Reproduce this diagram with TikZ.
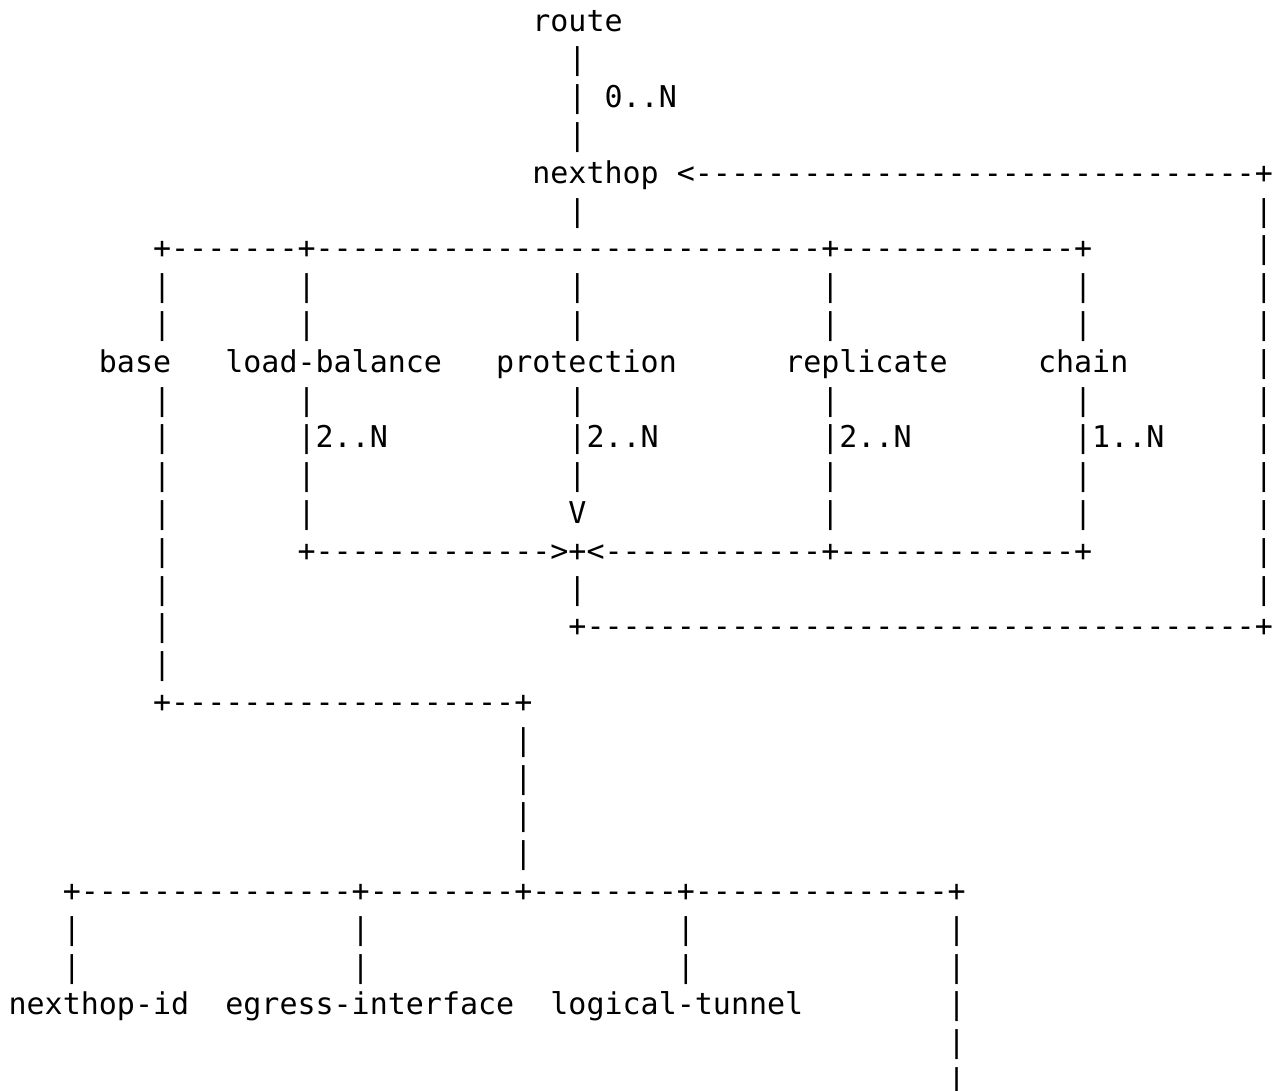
\documentclass[tikz,border=0pt]{standalone}
\usepackage{fontspec}
\newfontfamily\asciimono{DejaVu Sans Mono}
\ExplSyntaxOn
\cs_new:Npn \dsh #1 { \prg_replicate:nn {#1} {-} }
\ExplSyntaxOff
\tikzset{txt/.style={anchor=base west, inner sep=0pt, outer sep=0pt,
  font=\asciimono\fontsize{15pt}{18pt}\selectfont, text=black}}
\newcommand\ch[3]{\node[txt] (r#1c#2) at ({8.6+18.06*#2},{-32-37.8*#1}) {#3};}
\begin{document}
\begin{tikzpicture}[x=0.5pt,y=0.5pt]
\useasboundingbox[fill=white] (0,0) rectangle (1273,-1091);
% row 0-5
\ch{0}{29}{route}
\ch{1}{31}{|}
\ch{2}{31}{|}\ch{2}{33}{0..N}
\ch{3}{31}{|}
\ch{4}{29}{nexthop}\ch{4}{37}{<\dsh{31}+}
\ch{5}{31}{|}\ch{5}{69}{|}
% row 6
\ch{6}{8}{+\dsh{7}+\dsh{28}+\dsh{13}+}\ch{6}{69}{|}
% rows 7, 8, 10, 12
\foreach \r in {7,8,10,12}{
  \foreach \c in {8,16,31,45,59,69}{\ch{\r}{\c}{|}}
}
% row 9
\ch{9}{5}{base}\ch{9}{12}{load-balance}\ch{9}{27}{protection}
\ch{9}{43}{replicate}\ch{9}{57}{chain}\ch{9}{69}{|}
% row 11
\ch{11}{8}{|}\ch{11}{16}{|2..N}\ch{11}{31}{|2..N}\ch{11}{45}{|2..N}
\ch{11}{59}{|1..N}\ch{11}{69}{|}
% row 13
\ch{13}{8}{|}\ch{13}{16}{|}\ch{13}{31}{V}\ch{13}{45}{|}\ch{13}{59}{|}\ch{13}{69}{|}
% row 14
\ch{14}{8}{|}\ch{14}{16}{+\dsh{13}>+<\dsh{12}+\dsh{13}+}\ch{14}{69}{|}
% row 15
\ch{15}{8}{|}\ch{15}{31}{|}\ch{15}{69}{|}
% row 16
\ch{16}{8}{|}\ch{16}{31}{+\dsh{37}+}
% row 17
\ch{17}{8}{|}
% row 18
\ch{18}{8}{+\dsh{19}+}
% rows 19-22
\foreach \r in {19,20,21,22}{\ch{\r}{28}{|}}
% row 23
\ch{23}{3}{+\dsh{15}+\dsh{8}+\dsh{8}+\dsh{14}+}
% rows 24-25
\foreach \r in {24,25}{
  \foreach \c in {3,19,37,52}{\ch{\r}{\c}{|}}
}
% row 26
\ch{26}{0}{nexthop-id}\ch{26}{12}{egress-interface}\ch{26}{30}{logical-tunnel}
\ch{26}{52}{|}
% rows 27-28
\ch{27}{52}{|}\ch{28}{52}{|}
\end{tikzpicture}
\end{document}
